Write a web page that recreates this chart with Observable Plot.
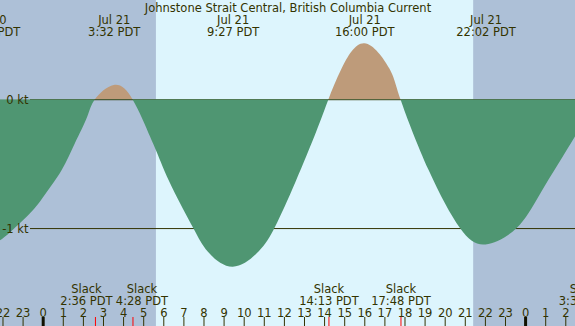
<!DOCTYPE html>
<html><head><meta charset="utf-8">
<script src="https://cdn.jsdelivr.net/npm/d3@7"></script>
<script src="https://cdn.jsdelivr.net/npm/@observablehq/plot@0.6"></script>
<style>html,body{margin:0;padding:0;background:#ddf5fd;overflow:hidden}</style>
</head><body><div id="chart"></div>
<script>
// ---- data (hours measured from Jul 21 00:00 PDT) ----
const title = "Johnstone Strait Central, British Columbia Current";
const sampleHour  = [-2.62, -2.124, -1.46, -0.48, 0.114, 0.945, 1.607, 2.204, 2.6, 3.533, 4.467, 5.34, 5.672, 6.42, 7.49, 8.22, 9.45, 10.75, 11.56, 12.58, 13.61, 14.217, 14.875, 16.0, 17.24, 17.8, 19.2, 20.76, 22.033, 23.58, 24.8, 26.48, 27.55];
const sampleKnots = [-1.12, -1.095, -1.01, -0.86, -0.74, -0.55, -0.34, -0.14, 0, 0.11, 0, -0.29, -0.41, -0.68, -1.0, -1.184, -1.30, -1.18, -0.99, -0.64, -0.25, 0, 0.24, 0.435, 0.24, 0, -0.55, -1.0, -1.127, -1.0, -0.72, -0.29, 0];
const maxDay = ["Jul 20", "Jul 21", "Jul 21", "Jul 21", "Jul 21"];
const maxDayOffset = [-1, 0, 0, 0, 0];
const maxTime = ["21:23", "3:32", "9:27", "16:00", "22:02"];
const slackDayOffset = [0, 0, 0, 0, 1];
const slackTime = ["2:36", "4:28", "14:13", "17:48", "3:33"];
const hourTicks = d3.range(-2, 27);
const hourLabels = hourTicks.map(h => String((h + 24) % 24));
const midnightTicks = [0, 24];
const sunrise = "5:38", sunset = "21:25";
const knotTicks = [0, -1];
const knotLabels = ["0 kt", "-1 kt"];
const xDomain = [-2.124, 26.483];
const yDomain = [-1.76, 0.77];

// ---- styles ----
const ink = "#333300", green = "#4f9672", tan = "#be9b7a", night = "#adc0d7", day = "#ddf5fd";
const slackNudge = [-9, 9, 0, 0, -12];
const W = 575, H = 326;

const toHour = (t, off) => { const [h, m] = t.split(":").map(Number); return off * 24 + h + m / 60; };
const curve = sampleHour.map((h, i) => ({h, v: sampleKnots[i]}));
const maxima = maxTime.map((t, i) => ({h: toHour(t, maxDayOffset[i]), label: `${maxDay[i]}\n${t} PDT`}));
const slacks = slackTime.map((t, i) => ({h: toHour(t, slackDayOffset[i]), label: `Slack\n${t} PDT`}));
const nights = [{x1: xDomain[0] - 1, x2: toHour(sunrise, 0)}, {x1: toHour(sunset, 0), x2: xDomain[1] + 1}];
const lh = 12 / 11.5;

const chart = Plot.plot({
  width: W, height: H, margin: 0,
  x: {domain: xDomain, axis: null},
  y: {domain: yDomain, axis: null},
  style: {fontFamily: "DejaVu Sans", fontSize: "11.5px", color: ink, background: day},
  marks: [
    Plot.rect(nights, {x1: "x1", x2: "x2", fill: night, clip: true}),
    Plot.areaY(curve, {x: "h", y1: 0, y2: "v", fill: tan, curve: "natural"}),
    Plot.ruleY(knotTicks, {stroke: ink, strokeWidth: 1, insetLeft: 30}),
    Plot.areaY(curve, {x: "h", y1: 0, y2: "v", fill: green, curve: "natural"}),
    Plot.text(knotTicks, {y: d => d, text: (d, i) => knotLabels[i], frameAnchor: "left", dx: 28, dy: 1, textAnchor: "end", lineAnchor: "middle", fill: ink}),
    Plot.text([title], {frameAnchor: "top", dy: 11.5, lineAnchor: "bottom", fill: ink}),
    Plot.text(maxima, {x: "h", text: "label", frameAnchor: "top", dy: 35.5, lineAnchor: "bottom", lineHeight: lh, fill: ink}),
    ...slacks.map((s, i) => Plot.text([s], {x: "h", text: "label", frameAnchor: "bottom", dy: -22, dx: slackNudge[i], lineAnchor: "bottom", lineHeight: lh, fill: ink})),
    Plot.text(hourTicks, {x: d => d, text: (d, i) => hourLabels[i], frameAnchor: "bottom", dy: -10, lineAnchor: "bottom", fill: ink}),
    Plot.tickX(hourTicks, {x: d => d, stroke: ink, insetTop: 317}),
    Plot.tickX(midnightTicks, {x: d => d, stroke: "#111100", strokeWidth: 3, insetTop: 317}),
    Plot.tickX(slacks, {x: "h", stroke: "#ff0000", insetTop: 317})
  ]
});

// split the current area at 0 kt: flood part above, ebb part below
const areas = chart.querySelectorAll('g[aria-label="area"]');
if (areas.length === 2) {
  const y0 = chart.scale("y").apply(0);
  const ns = "http://www.w3.org/2000/svg";
  const defs = document.createElementNS(ns, "defs");
  const addClip = (id, y, h) => {
    const cp = document.createElementNS(ns, "clipPath");
    cp.setAttribute("id", id);
    const r = document.createElementNS(ns, "rect");
    r.setAttribute("x", 0); r.setAttribute("y", y); r.setAttribute("width", W); r.setAttribute("height", h);
    cp.appendChild(r); defs.appendChild(cp);
  };
  addClip("clip-flood", 0, y0);
  addClip("clip-ebb", y0, H - y0);
  chart.insertBefore(defs, chart.firstChild);
  areas[0].setAttribute("clip-path", "url(#clip-flood)");
  areas[1].setAttribute("clip-path", "url(#clip-ebb)");
}
document.getElementById("chart").appendChild(chart);
</script>
</body></html>
